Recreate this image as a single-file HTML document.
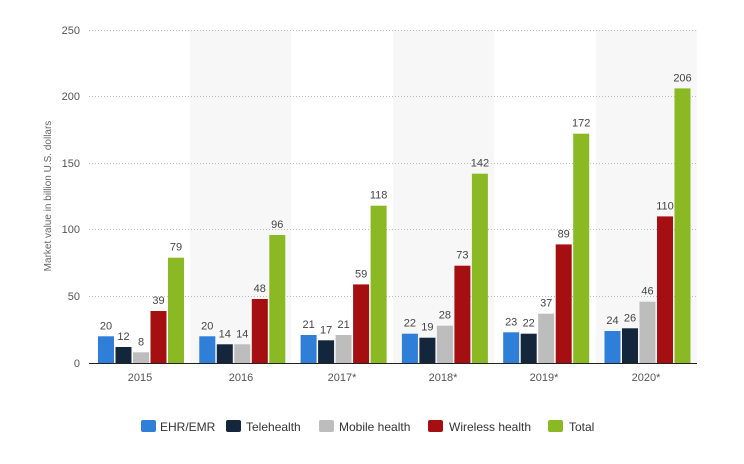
<!DOCTYPE html><html><head><style>body{margin:0;background:#fff}svg{display:block;font-family:"Liberation Sans",sans-serif}</style></head><body>
<svg width="744" height="464" xmlns="http://www.w3.org/2000/svg">
<rect x="190" y="30" width="101" height="333" fill="#f7f7f7"/>
<rect x="393" y="30" width="101" height="333" fill="#f7f7f7"/>
<rect x="596" y="30" width="101" height="333" fill="#f7f7f7"/>
<g stroke="#bbb" stroke-dasharray="1,2" stroke-width="1">
<line x1="89" x2="697" y1="30.5" y2="30.5"/><line x1="89" x2="697" y1="96.5" y2="96.5"/><line x1="89" x2="697" y1="163.5" y2="163.5"/><line x1="89" x2="697" y1="229.5" y2="229.5"/><line x1="89" x2="697" y1="296.5" y2="296.5"/>
</g>
<g font-size="11" fill="#555" text-anchor="end">
<text x="80" y="34">250</text><text x="80" y="100">200</text><text x="80" y="167">150</text><text x="80" y="233">100</text><text x="80" y="300">50</text><text x="80" y="367">0</text>
</g>
<text transform="translate(51,196) rotate(-90)" font-size="10" fill="#666" text-anchor="middle">Market value in billion U.S. dollars</text>
<g>
<rect x="98" y="336.3" width="16" height="26.7" fill="#2f7ed8"/><rect x="115.5" y="347" width="16" height="16" fill="#14263c"/><rect x="133" y="352.3" width="16" height="10.7" fill="#bdbdbd"/><rect x="150.5" y="311" width="16" height="52" fill="#a50f12"/><rect x="168" y="257.7" width="16" height="105.3" fill="#8ab924"/>
<rect x="199.3" y="336.3" width="16" height="26.7" fill="#2f7ed8"/><rect x="216.8" y="344.3" width="16" height="18.7" fill="#14263c"/><rect x="234.3" y="344.3" width="16" height="18.7" fill="#bdbdbd"/><rect x="251.8" y="299" width="16" height="64" fill="#a50f12"/><rect x="269.3" y="235" width="16" height="128" fill="#8ab924"/>
<rect x="300.6" y="335" width="16" height="28" fill="#2f7ed8"/><rect x="318.1" y="340.3" width="16" height="22.7" fill="#14263c"/><rect x="335.6" y="335" width="16" height="28" fill="#bdbdbd"/><rect x="353.1" y="284.4" width="16" height="78.6" fill="#a50f12"/><rect x="370.6" y="205.7" width="16" height="157.3" fill="#8ab924"/>
<rect x="401.9" y="333.7" width="16" height="29.3" fill="#2f7ed8"/><rect x="419.4" y="337.7" width="16" height="25.3" fill="#14263c"/><rect x="436.9" y="325.7" width="16" height="37.3" fill="#bdbdbd"/><rect x="454.4" y="265.7" width="16" height="97.3" fill="#a50f12"/><rect x="471.9" y="173.7" width="16" height="189.3" fill="#8ab924"/>
<rect x="503.2" y="332.3" width="16" height="30.7" fill="#2f7ed8"/><rect x="520.7" y="333.7" width="16" height="29.3" fill="#14263c"/><rect x="538.2" y="313.7" width="16" height="49.3" fill="#bdbdbd"/><rect x="555.7" y="244.4" width="16" height="118.6" fill="#a50f12"/><rect x="573.2" y="133.7" width="16" height="229.3" fill="#8ab924"/>
<rect x="604.5" y="331" width="16" height="32" fill="#2f7ed8"/><rect x="622" y="328.3" width="16" height="34.7" fill="#14263c"/><rect x="639.5" y="301.7" width="16" height="61.3" fill="#bdbdbd"/><rect x="657" y="216.4" width="16" height="146.6" fill="#a50f12"/><rect x="674.5" y="88.4" width="16" height="274.6" fill="#8ab924"/>
</g>
<g font-size="11" fill="#444" text-anchor="middle">
<text x="106" y="329.3">20</text><text x="123.5" y="340">12</text><text x="141" y="345.3">8</text><text x="158.5" y="304">39</text><text x="176" y="250.7">79</text>
<text x="207.3" y="329.3">20</text><text x="224.8" y="337.3">14</text><text x="242.3" y="337.3">14</text><text x="259.8" y="292">48</text><text x="277.3" y="228">96</text>
<text x="308.6" y="328">21</text><text x="326.1" y="333.3">17</text><text x="343.6" y="328">21</text><text x="361.1" y="277.4">59</text><text x="378.6" y="198.7">118</text>
<text x="409.9" y="326.7">22</text><text x="427.4" y="330.7">19</text><text x="444.9" y="318.7">28</text><text x="462.4" y="258.7">73</text><text x="479.9" y="166.7">142</text>
<text x="511.2" y="325.3">23</text><text x="528.7" y="326.7">22</text><text x="546.2" y="306.7">37</text><text x="563.7" y="237.4">89</text><text x="581.2" y="126.7">172</text>
<text x="612.5" y="324">24</text><text x="630" y="321.3">26</text><text x="647.5" y="294.7">46</text><text x="665" y="209.4">110</text><text x="682.5" y="81.4">206</text>
</g>
<line x1="89" x2="697" y1="363.5" y2="363.5" stroke="#222" stroke-width="1"/>
<g font-size="11" fill="#555" text-anchor="middle">
<text x="140" y="381">2015</text><text x="241" y="381">2016</text><text x="342" y="381">2017*</text><text x="443" y="381">2018*</text><text x="544" y="381">2019*</text><text x="646" y="381">2020*</text>
</g>
<g font-size="12" fill="#333">
<rect x="141" y="420" width="15" height="12" rx="2" fill="#2f7ed8"/><text x="160" y="431">EHR/EMR</text>
<rect x="226" y="420" width="15" height="12" rx="2" fill="#14263c"/><text x="246" y="431">Telehealth</text>
<rect x="319" y="420" width="15" height="12" rx="2" fill="#bdbdbd"/><text x="339" y="431">Mobile health</text>
<rect x="428" y="420" width="15" height="12" rx="2" fill="#a50f12"/><text x="449" y="431">Wireless health</text>
<rect x="548" y="420" width="15" height="12" rx="2" fill="#8ab924"/><text x="569" y="431">Total</text>
</g>
</svg></body></html>
